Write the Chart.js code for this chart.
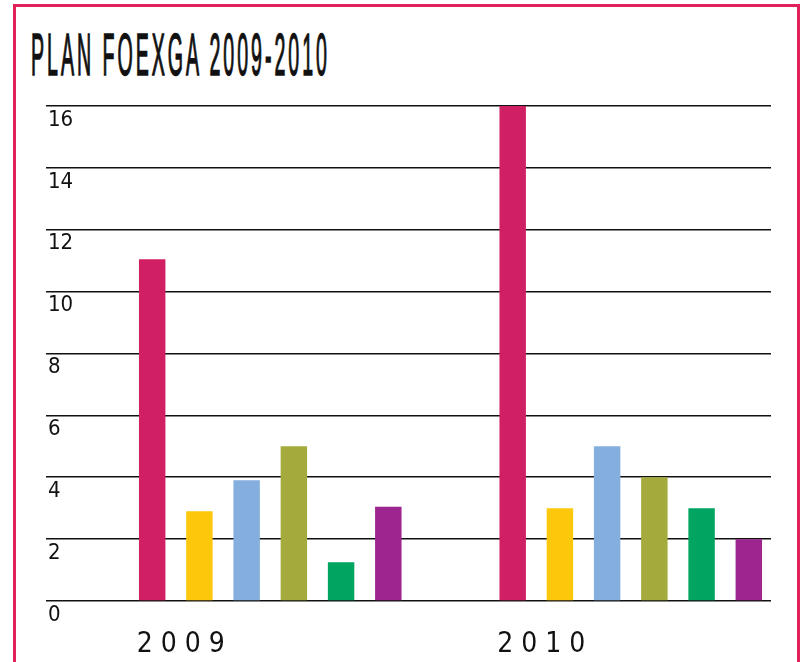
<!DOCTYPE html>
<html>
<head>
<meta charset="utf-8">
<script src="https://cdn.jsdelivr.net/npm/chart.js@4.4.1/dist/chart.umd.min.js"></script>
<style>
  html, body { margin: 0; padding: 0; background: #fff; overflow: hidden; }
  body { width: 805px; height: 662px; position: relative; }
  #marco { position: absolute; left: 13px; top: 4px; width: 781px; height: 700px; border: 3px solid #E0215A; }
  #titulo { position: absolute; left: 31px; top: 25px; font: 400 60px "Liberation Sans Narrow", "Liberation Sans", sans-serif; letter-spacing: 9px; line-height: 1; white-space: nowrap; transform-origin: 0 0; color: #111; -webkit-text-stroke: 1.5px #111; }
  #grafico { position: absolute; left: 46px; top: 96px; }
</style>
</head>
<body>
<div id="marco"></div>
<div id="titulo">PLAN FOEXGA 2009-2010</div>
<canvas id="grafico" width="725" height="566"></canvas>
<script>
// datos
const anos = ['2009', '2010'];
const serie1 = [11.05, 16];
const serie2 = [2.9, 3];
const serie3 = [3.9, 5];
const serie4 = [5, 4];
const serie5 = [1.25, 3];
const serie6 = [3.05, 2];
const cores = ['#D01F63', '#FDC70C', '#84AEDD', '#A4AB3C', '#00A562', '#9E248F'];

const fonte = '"Liberation Sans Narrow", "DejaVu Sans Condensed", "Liberation Sans", sans-serif';

// titulo estreito
const t = document.getElementById('titulo');
t.style.transform = 'scaleX(' + (299 / t.offsetWidth) + ')';

// o eixo x continua alen do bordo do canvas (as liñas cortan en 771)
const ampliarX = {
  id: 'ampliarX',
  afterLayout(chart) {
    const x = chart.scales.x;
    x.right = x.left + 721;
    x.width = 721;
    x.configure();
  }
};

const series = [serie1, serie2, serie3, serie4, serie5, serie6];
const ctx = document.getElementById('grafico');
new Chart(ctx, {
  type: 'bar',
  data: {
    labels: anos,
    datasets: series.map((s, i) => ({
      label: 'Serie ' + (i + 1),
      data: s,
      backgroundColor: cores[i],
      borderWidth: 0,
      barPercentage: 0.56,
      categoryPercentage: 0.786
    }))
  },
  options: {
    responsive: false,
    animation: false,
    layout: { padding: { top: 10, right: 0, left: 0, bottom: 0 } },
    plugins: {
      legend: { display: false },
      tooltip: { enabled: false }
    },
    scales: {
      x: {
        grid: { display: false, drawTicks: false },
        border: { display: false },
        ticks: {
          font: { family: fonte, size: 28 },
          color: '#111',
          padding: 27,
          labelOffset: -89.5,
          maxRotation: 0,
          callback: function(value, index) {
            return anos[index].split('').join(' ');
          }
        },
        afterFit: function(s) { s.height = 61; }
      },
      y: {
        min: 0,
        max: 16,
        ticks: {
          stepSize: 2,
          mirror: true,
          padding: -42,
          labelOffset: 14,
          font: { family: fonte, size: 22 },
          color: '#111'
        },
        grid: { color: '#111', lineWidth: 1.6, tickLength: 44, drawTicks: true },
        border: { display: false },
        afterFit: function(s) { s.width = 44; }
      }
    }
  },
  plugins: [ampliarX]
});
</script>
</body>
</html>
